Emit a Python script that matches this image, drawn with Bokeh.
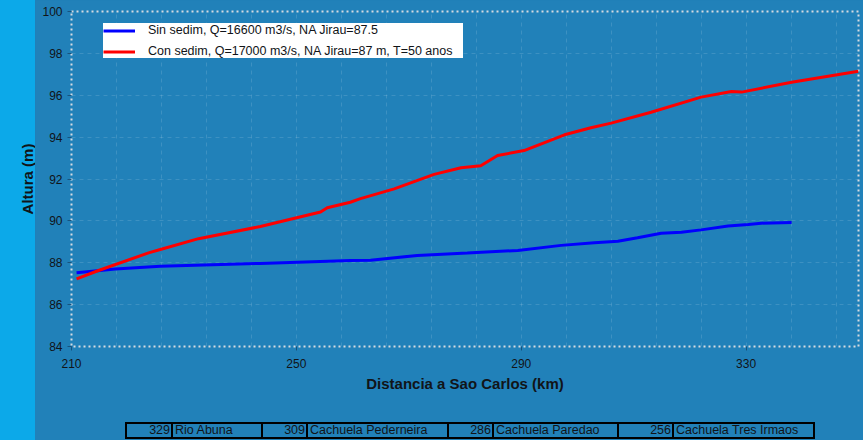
from bokeh.plotting import figure
from bokeh.layouts import row, column
from bokeh.models import Range1d, FixedTicker, Legend, LegendItem, Div
from bokeh.core.properties import value
from bokeh.embed import file_html
from bokeh.resources import INLINE
import numpy as np

# --- water surface profiles (distance to Sao Carlos in km, level in m) ---
km_sin = [210.9, 217.8, 225.8, 243.6, 259.6, 263.2, 271.5, 280.4, 289.4,
          297.1, 303.0, 307.2, 310.7, 314.9, 318.5, 322.0, 326.8, 330.4, 332.7, 338.1]
h_sin = [87.52, 87.70, 87.83, 87.97, 88.11, 88.12, 88.35, 88.46, 88.59,
         88.83, 88.95, 89.03, 89.19, 89.41, 89.46, 89.57, 89.75, 89.83, 89.89, 89.92]

km_con = [210.9, 214.8, 223.7, 225.8, 232.6, 243.6, 254.3, 255.5, 259.6, 261.4,
          267.4, 274.5, 279.3, 282.8, 285.8, 290.5, 297.7, 302.4, 306.0, 313.1,
          322.0, 327.4, 329.2, 338.1, 350.0]
h_con = [87.23, 87.63, 88.47, 88.63, 89.15, 89.73, 90.42, 90.63, 90.89, 91.06,
         91.53, 92.22, 92.54, 92.63, 93.12, 93.36, 94.11, 94.45, 94.67, 95.19,
         95.91, 96.18, 96.15, 96.62, 97.15]

label_sin = "Sin sedim, Q=16600 m3/s, NA Jirau=87.5"
label_con = "Con sedim, Q=17000 m3/s, NA Jirau=87 m, T=50 anos"

# --- reference stations listed under the chart ---
station_km = ["329", "309", "286", "256"]
station_name = ["Rio Abuna", "Cachuela Pederneira", "Cachuela Paredao", "Cachuela Tres Irmaos"]

x_ticks = [210, 250, 290, 330]
y_ticks = [84, 86, 88, 90, 92, 94, 96, 98, 100]

W, H = 863, 440
STRIP_W = 35
MAIN_H = 400
BG = "#2181b9"
STRIP = "#0ca9e9"
FONT = "Liberation Sans"
TXT = "#111418"

# ---------------- main chart ----------------
p = figure(width=W - STRIP_W, height=MAIN_H, output_backend="svg", toolbar_location=None,
           x_range=Range1d(210, 350), y_range=Range1d(84, 100),
           min_border_left=36, min_border_right=5, min_border_top=11, min_border_bottom=54)
p.background_fill_color = BG
p.border_fill_color = BG
p.outline_line_color = "#d5dbe1"
p.outline_line_width = 2
p.outline_line_dash = "2 3"

r_sin = p.line(km_sin, h_sin, line_color="#0000ff", line_width=3)
r_con = p.line(km_con, h_con, line_color="#ff0000", line_width=3)

for ax in (p.xaxis[0], p.yaxis[0]):
    ax.axis_line_color = None
    ax.major_tick_line_color = "#16537e"
    ax.major_tick_in = 0
    ax.major_tick_out = 4
    ax.minor_tick_line_color = None
    ax.major_label_text_font = FONT
    ax.major_label_text_font_size = "12px"
    ax.major_label_text_color = TXT

p.xaxis.ticker = FixedTicker(ticks=x_ticks)
p.yaxis.ticker = FixedTicker(ticks=y_ticks)
p.xaxis.major_label_standoff = 8
p.yaxis.major_label_standoff = 5
p.xaxis.axis_label = "Distancia a Sao Carlos (km)"
p.xaxis.axis_label_text_font = FONT
p.xaxis.axis_label_text_font_style = "bold"
p.xaxis.axis_label_text_font_size = "15px"
p.xaxis.axis_label_text_color = TXT
p.xaxis.axis_label_standoff = 4

p.xgrid.ticker = FixedTicker(ticks=list(np.arange(210, 351, 8)))
p.ygrid.ticker = FixedTicker(ticks=y_ticks)
for g in (p.xgrid[0], p.ygrid[0]):
    g.grid_line_color = "#ffffff"
    g.grid_line_alpha = 0.13
    g.grid_line_dash = "4 4"
    g.grid_line_width = 1

legend = Legend(items=[LegendItem(label=label_sin, renderers=[r_sin]),
                       LegendItem(label=label_con, renderers=[r_con])],
                location=(32, 288), orientation="vertical",
                background_fill_color="#ffffff", background_fill_alpha=1,
                border_line_color=None, padding=6, spacing=7, margin=0,
                glyph_width=32, glyph_height=13, label_height=13, label_width=315,
                label_standoff=13, label_text_font=FONT, label_text_font_size="12.5px",
                label_text_color=TXT)
p.add_layout(legend)

# ---------------- left band with the vertical axis title ----------------
strip = figure(width=STRIP_W, height=H, output_backend="svg", toolbar_location=None,
               x_range=Range1d(0, STRIP_W), y_range=Range1d(0, H), min_border=0)
strip.axis.visible = False
strip.grid.visible = False
strip.outline_line_color = None
strip.background_fill_color = STRIP
strip.border_fill_color = STRIP
strip.text(x=[27], y=[H - 178.5], text=["Altura (m)"], angle=np.pi / 2,
           text_align="center", text_baseline="middle",
           text_font=value(FONT), text_font_style="bold", text_font_size="15px",
           text_color=TXT)

# ---------------- station table under the chart ----------------
cell_edges = [91, 137, 227, 272, 413, 458, 583, 638, 779]   # px, relative to the panel
row_top, row_h = 22, 17
cell_text = []
for i in range(len(station_km)):
    cell_text += [(station_km[i], "right"), (station_name[i], "left")]

cells = []
for (txt, align), lo, hi in zip(cell_text, cell_edges[:-1], cell_edges[1:]):
    pad = "padding-right:1px;" if align == "right" else "padding-left:2px;"
    cells.append(
        f'<div style="position:absolute;left:{lo - 1}px;top:{row_top}px;'
        f'width:{hi - lo + 2}px;height:{row_h}px;box-sizing:border-box;'
        f'border:2px solid #000;text-align:{align};{pad}'
        f'line-height:13px;white-space:nowrap;overflow:hidden;">{txt}</div>')

table_html = (f'<div style="position:relative;width:{W - STRIP_W}px;height:{H - MAIN_H}px;'
              f'background:{BG};font-family:\'{FONT}\';font-size:12.5px;color:{TXT};">'
              + "".join(cells) + "</div>")
table = Div(text=table_html, width=W - STRIP_W, height=H - MAIN_H,
            styles={"background-color": BG, "margin": "0", "padding": "0"})

# page backdrop: light band on the left, chart blue elsewhere
backdrop = (f"linear-gradient(to right, {STRIP} 0px, {STRIP} {STRIP_W}px, "
            f"{BG} {STRIP_W}px, {BG} 100%)")
layout = row(strip, column(p, table, spacing=0, styles={"background-color": BG}),
             spacing=0, styles={"background": backdrop})
open("out.html", "w").write(file_html(layout, INLINE))
